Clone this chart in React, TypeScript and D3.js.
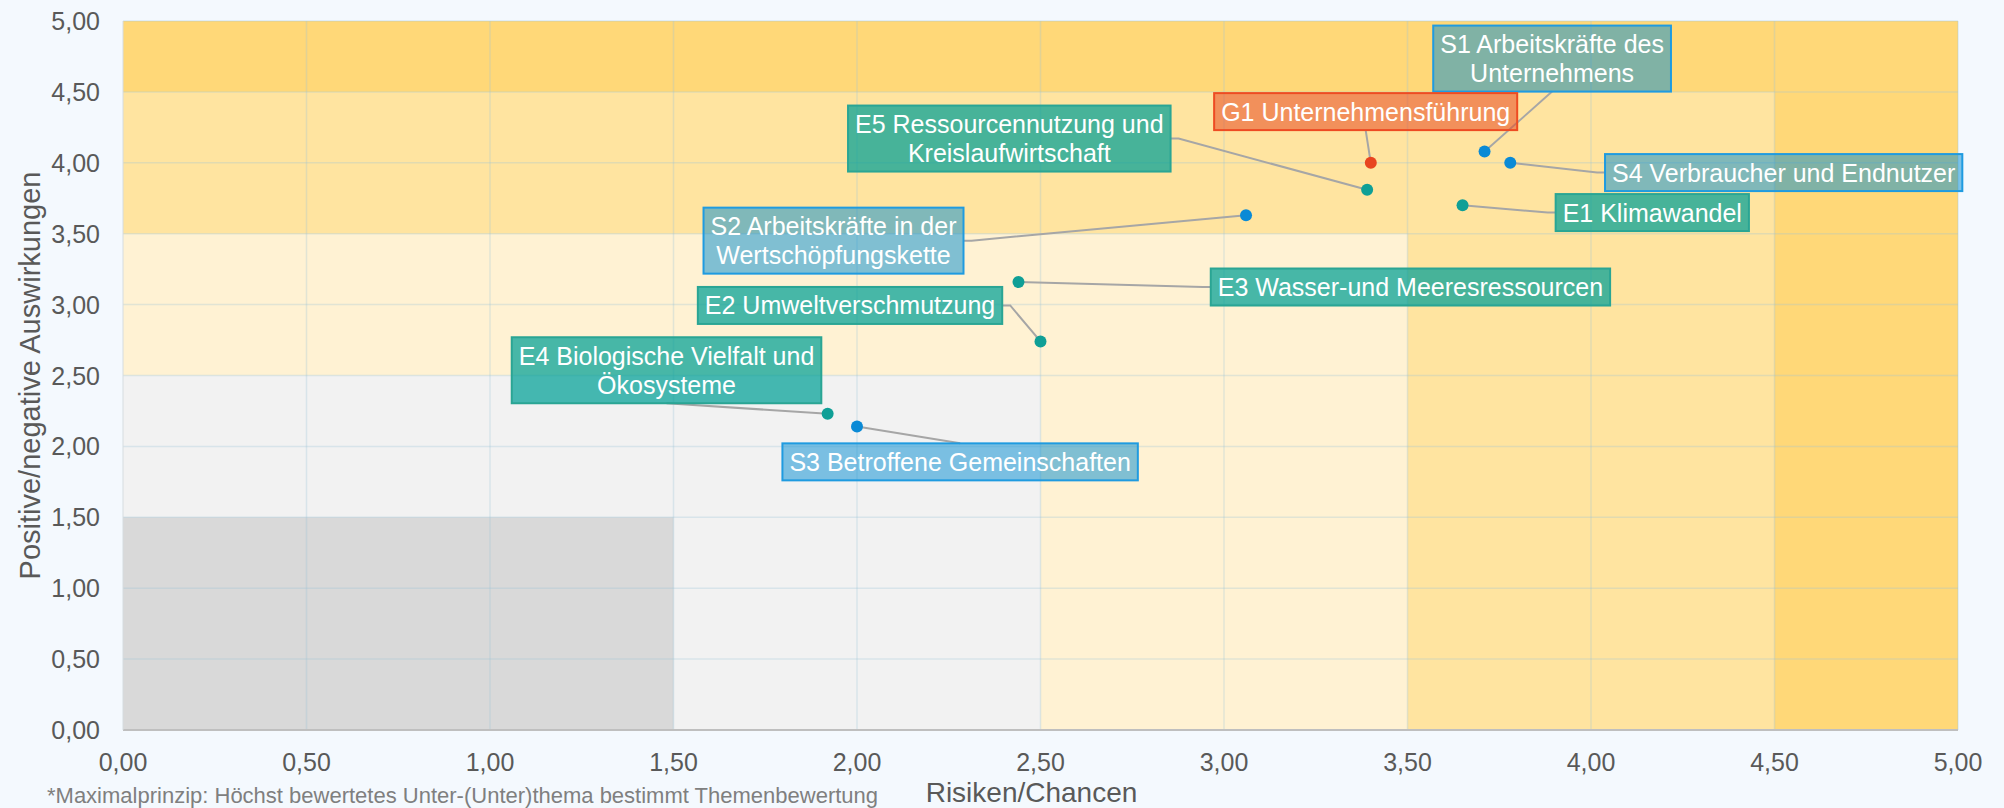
import React, { useEffect, useRef } from "react";
import * as d3 from "d3";

// topics and their scores
const topics = ["E1", "E2", "E3", "E4", "E5", "S1", "S2", "S3", "S4", "G1"];
const risks = [3.65, 2.5, 2.44, 1.92, 3.39, 3.71, 3.06, 2.0, 3.78, 3.4];
const impacts = [3.7, 2.74, 3.16, 2.23, 3.81, 4.08, 3.63, 2.14, 4.0, 4.0];
const groups = ["E", "E", "E", "E", "E", "S", "S", "S", "S", "G"];
const labelLines = [
  ["E1 Klimawandel"],
  ["E2 Umweltverschmutzung"],
  ["E3 Wasser-und Meeresressourcen"],
  ["E4 Biologische Vielfalt und", "Ökosysteme"],
  ["E5 Ressourcennutzung und", "Kreislaufwirtschaft"],
  ["S1 Arbeitskräfte des", "Unternehmens"],
  ["S2 Arbeitskräfte in der", "Wertschöpfungskette"],
  ["S3 Betroffene Gemeinschaften"],
  ["S4 Verbraucher und Endnutzer"],
  ["G1 Unternehmensführung"],
];
// label centres (data units) and the side the leader line leaves from
const labelX = [4.167, 1.981, 3.508, 1.481, 2.415, 3.894, 1.936, 2.281, 4.525, 3.386];
const labelY = [3.649, 2.994, 3.124, 2.537, 4.171, 4.735, 3.451, 1.891, 3.931, 4.361];
const labelSide = ["l", "r", "l", "b", "r", "b", "r", "t", "l", "b"];

const ticks = [0, 0.5, 1, 1.5, 2, 2.5, 3, 3.5, 4, 4.5, 5];
// nested zones, largest first
const zoneLimits = [5, 4.5, 3.5, 2.5, 1.5];
const zoneColors = ["#FFD878", "#FFE4A0", "#FFF2D3", "#F2F2F2", "#D9D9D9"];

const xTitle = "Risiken/Chancen";
const yTitle = "Positive/negative Auswirkungen";
const footnote = "*Maximalprinzip: Höchst bewertetes Unter-(Unter)thema bestimmt Themenbewertung";

const dotColor: Record<string, string> = { E: "#0F9F96", S: "#0A8AD6", G: "#E8441F" };
const boxFill: Record<string, string> = {
  E: "rgba(0,160,150,0.72)",
  S: "rgba(2,139,210,0.5)",
  G: "rgba(232,75,35,0.55)",
};
const boxStroke: Record<string, string> = { E: "#2AA594", S: "#1F9BE0", G: "#EE4B22" };

const W = 2004;
const H = 808;
const margin = { top: 21, right: 46, bottom: 78, left: 123 };
const FONT = "'Liberation Sans', Arial, sans-serif";

export default function App() {
  const ref = useRef<SVGSVGElement>(null);

  useEffect(() => {
    document.body.style.margin = "0";
    document.body.style.background = "#F4F9FE";
    const svg = d3.select(ref.current);
    svg.selectAll("*").remove();

    const w = W - margin.left - margin.right;
    const h = H - margin.top - margin.bottom;
    const x = d3.scaleLinear().domain([0, 5]).range([0, w]);
    const y = d3.scaleLinear().domain([0, 5]).range([h, 0]);
    const fmt = (v: number) => d3.format(".2f")(v).replace(".", ",");

    svg.append("rect").attr("width", W).attr("height", H).attr("fill", "#F4F9FE");

    const g = svg.append("g").attr("transform", `translate(${margin.left},${margin.top})`);

    // zones
    g.selectAll("rect.zone")
      .data(zoneLimits)
      .enter()
      .append("rect")
      .attr("class", "zone")
      .attr("x", 0)
      .attr("y", (d) => y(d))
      .attr("width", (d) => x(d))
      .attr("height", (d) => h - y(d))
      .attr("fill", (d, i) => zoneColors[i]);

    // grid
    g.selectAll("line.gx")
      .data(ticks.slice(1))
      .enter()
      .append("line")
      .attr("x1", (d) => x(d))
      .attr("x2", (d) => x(d))
      .attr("y1", 0)
      .attr("y2", h)
      .attr("stroke", "#9DC3D8")
      .attr("stroke-opacity", 0.3)
      .attr("stroke-width", 1.5);
    g.selectAll("line.gy")
      .data(ticks.slice(1))
      .enter()
      .append("line")
      .attr("x1", 0)
      .attr("x2", w)
      .attr("y1", (d) => y(d))
      .attr("y2", (d) => y(d))
      .attr("stroke", "#9DC3D8")
      .attr("stroke-opacity", 0.3)
      .attr("stroke-width", 1.5);

    // axes lines
    g.append("line").attr("x1", 0).attr("x2", w).attr("y1", h).attr("y2", h)
      .attr("stroke", "#BFBFBF").attr("stroke-width", 2);
    g.append("line").attr("x1", 0).attr("x2", 0).attr("y1", 0).attr("y2", h)
      .attr("stroke", "#D6DCE0").attr("stroke-width", 1);

    // tick labels
    g.selectAll("text.xt")
      .data(ticks)
      .enter()
      .append("text")
      .attr("x", (d) => x(d))
      .attr("y", h + 41)
      .attr("text-anchor", "middle")
      .style("font-family", FONT)
      .style("font-size", "25px")
      .attr("fill", "#595959")
      .text(fmt);
    g.selectAll("text.yt")
      .data(ticks)
      .enter()
      .append("text")
      .attr("x", -23)
      .attr("y", (d) => y(d) + 9)
      .attr("text-anchor", "end")
      .style("font-family", FONT)
      .style("font-size", "25px")
      .attr("fill", "#595959")
      .text(fmt);

    // titles
    g.append("text")
      .attr("x", w / 2 - 9)
      .attr("y", h + 72)
      .attr("text-anchor", "middle")
      .style("font-family", FONT)
      .style("font-size", "28px")
      .attr("fill", "#595959")
      .text(xTitle);
    svg.append("text")
      .attr("transform", `translate(40,${margin.top + h / 2}) rotate(-90)`)
      .attr("text-anchor", "middle")
      .style("font-family", FONT)
      .style("font-size", "29px")
      .attr("fill", "#595959")
      .text(yTitle);
    svg.append("text")
      .attr("x", 47)
      .attr("y", 803)
      .style("font-family", FONT)
      .style("font-size", "22px")
      .attr("fill", "#7F7F7F")
      .text(footnote);

    // labels
    const leaders = g.append("g");
    const boxes = g.append("g");
    topics.forEach((t, i) => {
      const grp = groups[i];
      const lines = labelLines[i];
      const cx = x(labelX[i]);
      const cy = y(labelY[i]);
      const lh = 29;
      const bg = boxes.append("g");
      const rect = bg.append("rect");
      const txt = bg
        .append("text")
        .attr("text-anchor", "middle")
        .style("font-family", FONT)
        .style("font-size", "25px")
        .attr("fill", "#FFFFFF");
      lines.forEach((l, k) => {
        txt
          .append("tspan")
          .attr("x", cx)
          .attr("y", cy - ((lines.length - 1) * lh) / 2 + k * lh + 9)
          .text(l);
      });
      const tw = (txt.node() as SVGTextElement).getBBox().width;
      const bw = tw + 14;
      const bh = lines.length * lh + 8;
      const bx = cx - bw / 2;
      const by = cy - bh / 2;
      rect
        .attr("x", bx)
        .attr("y", by)
        .attr("width", bw)
        .attr("height", bh)
        .attr("fill", boxFill[grp])
        .attr("stroke", boxStroke[grp])
        .attr("stroke-width", 2);

      const px = x(risks[i]);
      const py = y(impacts[i]);
      let pts: [number, number][] = [];
      const side = labelSide[i];
      if (side === "r") pts = [[bx + bw, cy], [bx + bw + 8, cy], [px, py]];
      else if (side === "l") pts = [[bx, cy], [bx - 8, cy], [px, py]];
      else if (side === "b") pts = [[cx, by + bh], [px, py]];
      else pts = [[cx, by], [px, py]];
      leaders
        .append("path")
        .attr("d", d3.line()(pts))
        .attr("fill", "none")
        .attr("stroke", "#A6A6A6")
        .attr("stroke-width", 2);
    });

    // points
    g.selectAll("circle.pt")
      .data(topics)
      .enter()
      .append("circle")
      .attr("cx", (d, i) => x(risks[i]))
      .attr("cy", (d, i) => y(impacts[i]))
      .attr("r", 6)
      .attr("fill", (d, i) => dotColor[groups[i]]);
  }, []);

  return <svg ref={ref} width={W} height={H} style={{ display: "block" }} />;
}
